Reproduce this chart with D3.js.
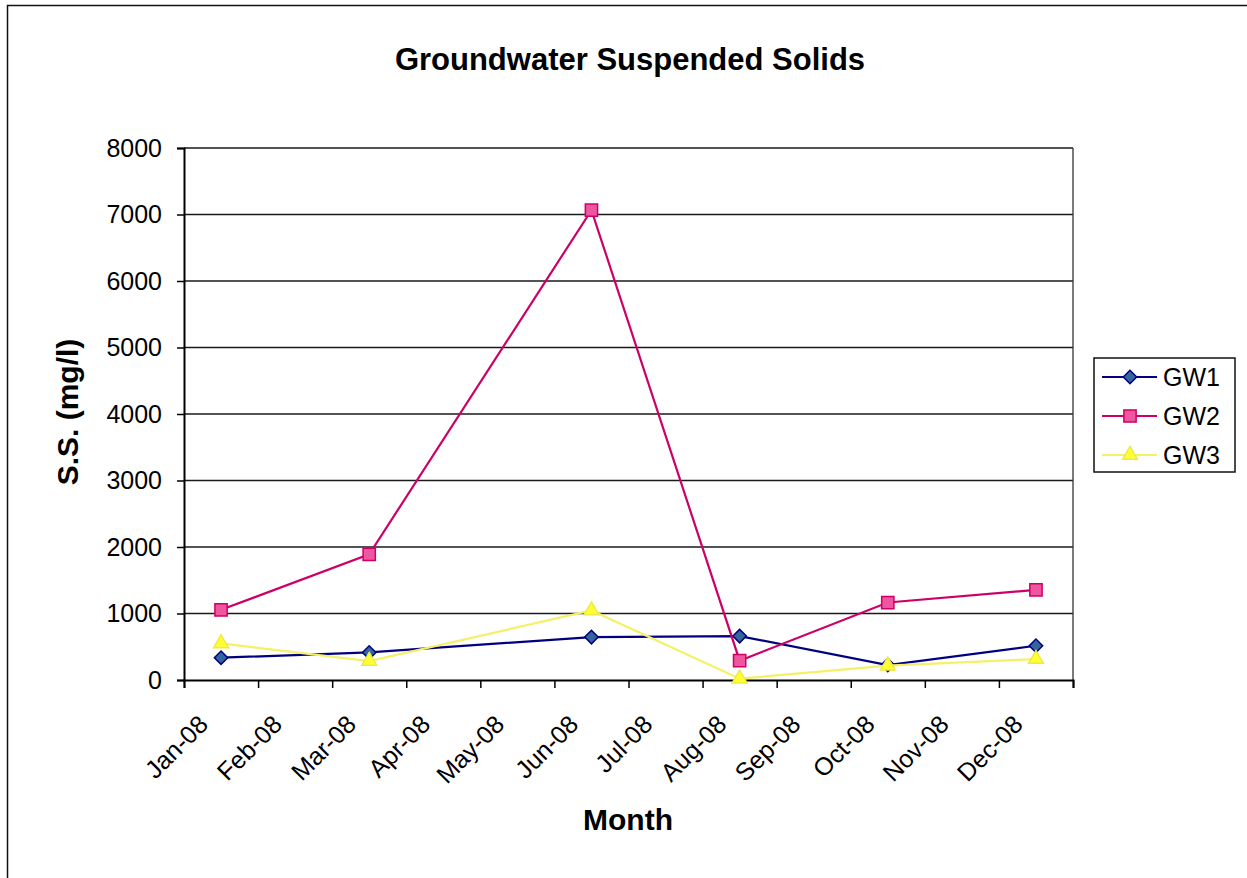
<!DOCTYPE html>
<html>
<head>
<meta charset="utf-8">
<script src="https://cdn.jsdelivr.net/npm/d3@7"></script>
<style>
  html, body { margin: 0; padding: 0; background: #fff; }
  svg { display: block; font-family: "Liberation Sans", Arial, sans-serif; }
</style>
</head>
<body>
<svg id="chart" width="1247" height="878"></svg>
<script>
// Month boundaries on the date axis (last one closes December)
const monthEdges = ["Jan-08","Feb-08","Mar-08","Apr-08","May-08","Jun-08",
                    "Jul-08","Aug-08","Sep-08","Oct-08","Nov-08","Dec-08","Jan-09"];
// Months in which samples were taken (plotted mid-month)
const sampleMonths = ["Jan-08","Mar-08","Jun-08","Aug-08","Oct-08","Dec-08"];
const yTicks = [0,1000,2000,3000,4000,5000,6000,7000,8000];

// Suspended solids, mg/l
const gw1 = [335, 415, 645, 660, 225, 515];
const gw2 = [1055, 1890, 7065, 290, 1165, 1355];
const gw3 = [550, 285, 1045, 20, 215, 315];

const seriesNames = ["GW1","GW2","GW3"];
const seriesValues = [gw1, gw2, gw3];
const seriesStyle = {
  GW1: { line: "#000080", fill: "#33669c", stroke: "#000080", shape: d3.symbolSquare, size: 90, rot: 45 },
  GW2: { line: "#cc0066", fill: "#f0559f", stroke: "#cc0066", shape: d3.symbolSquare, size: 150, rot: 0 },
  GW3: { line: "#f5f066", fill: "#ffff33", stroke: "#eeea44", shape: d3.symbolTriangle, size: 95, rot: 0 }
};

const plot = { left: 184, right: 1073, top: 148, bottom: 680 };

const svg = d3.select("#chart");

// chart frame
svg.append("path")
  .attr("d", `M7.5,880 L7.5,5.5 L1250,5.5`)
  .attr("fill", "none").attr("stroke", "#111").attr("stroke-width", 1.5);

const x = d3.scalePoint().domain(monthEdges).range([plot.left, plot.right]).padding(0);
const xMid = m => x(m) + x.step() / 2;
const y = d3.scaleLinear().domain([0, 8000]).range([plot.bottom, plot.top]);

// gridlines
svg.append("g").selectAll("line").data(yTicks.filter(v => v > 0)).join("line")
  .attr("x1", plot.left).attr("x2", plot.right)
  .attr("y1", d => y(d)).attr("y2", d => y(d))
  .attr("stroke", "#1a1a1a").attr("stroke-width", 1.3);

// right edge of plot area
svg.append("line")
  .attr("x1", plot.right).attr("x2", plot.right)
  .attr("y1", plot.top).attr("y2", plot.bottom)
  .attr("stroke", "#333").attr("stroke-width", 1.3);

// y axis
const yAxis = svg.append("g")
  .attr("transform", `translate(${plot.left},0)`)
  .call(d3.axisLeft(y).tickValues(yTicks).tickSize(7).tickPadding(15).tickFormat(d3.format("d")));
yAxis.select(".domain").attr("stroke", "#000").attr("stroke-width", 2);
yAxis.selectAll(".tick line").attr("stroke", "#000").attr("stroke-width", 1.5);
yAxis.selectAll(".tick text")
  .attr("font-size", 25).attr("fill", "#000")
  .attr("font-family", "'Liberation Sans', Arial, sans-serif");

// x axis
const xAxis = svg.append("g")
  .attr("transform", `translate(0,${plot.bottom})`)
  .call(d3.axisBottom(x).tickSize(8).tickFormat(d => d === "Jan-09" ? "" : d));
xAxis.select(".domain").attr("stroke", "#000").attr("stroke-width", 2);
xAxis.selectAll(".tick line").attr("stroke", "#000").attr("stroke-width", 1.5);
xAxis.selectAll(".tick text")
  .attr("font-size", 25).attr("fill", "#000")
  .attr("font-family", "'Liberation Sans', Arial, sans-serif")
  .attr("text-anchor", "end")
  .attr("y", 0).attr("dy", 0)
  .attr("transform", "translate(25,46) rotate(-45)");

// series lines and markers
const line = d3.line().x((d, i) => xMid(sampleMonths[i])).y(d => y(d));
const marker = st => d3.symbol().type(st.shape).size(st.size)();

seriesNames.forEach((name, k) => {
  const st = seriesStyle[name];
  const vals = seriesValues[k];
  const g = svg.append("g");
  g.append("path").datum(vals)
    .attr("d", line).attr("fill", "none")
    .attr("stroke", st.line).attr("stroke-width", 2.2);
  g.selectAll("path.pt").data(vals).join("path")
    .attr("class", "pt")
    .attr("d", marker(st))
    .attr("transform", (d, i) => `translate(${xMid(sampleMonths[i])},${y(d)}) rotate(${st.rot})`)
    .attr("fill", st.fill).attr("stroke", st.stroke).attr("stroke-width", 1.5);
});

// title and axis titles
svg.append("text")
  .attr("x", 630).attr("y", 70).attr("text-anchor", "middle")
  .attr("font-size", 31).attr("font-weight", "bold").attr("fill", "#000")
  .text("Groundwater Suspended Solids");

svg.append("text")
  .attr("x", 628).attr("y", 830).attr("text-anchor", "middle")
  .attr("font-size", 30).attr("font-weight", "bold").attr("fill", "#000")
  .text("Month");

svg.append("text")
  .attr("transform", "translate(78,412) rotate(-90)")
  .attr("text-anchor", "middle")
  .attr("font-size", 30).attr("font-weight", "bold").attr("fill", "#000")
  .text("S.S. (mg/l)");

// legend
const legend = svg.append("g");
legend.append("rect")
  .attr("x", 1094).attr("y", 358).attr("width", 141).attr("height", 114)
  .attr("fill", "#fff").attr("stroke", "#111").attr("stroke-width", 1.5);

const rowY = d3.scalePoint().domain(seriesNames).range([377, 455]);
seriesNames.forEach(name => {
  const st = seriesStyle[name];
  const cy = rowY(name);
  legend.append("line")
    .attr("x1", 1102).attr("x2", 1157).attr("y1", cy).attr("y2", cy)
    .attr("stroke", st.line).attr("stroke-width", 2.2);
  legend.append("path")
    .attr("d", marker(st))
    .attr("transform", `translate(1130,${cy}) rotate(${st.rot})`)
    .attr("fill", st.fill).attr("stroke", st.stroke).attr("stroke-width", 1.5);
  legend.append("text")
    .attr("x", 1163).attr("y", cy).attr("dy", "0.36em")
    .attr("font-size", 25).attr("fill", "#000")
    .text(name);
});
</script>
</body>
</html>
